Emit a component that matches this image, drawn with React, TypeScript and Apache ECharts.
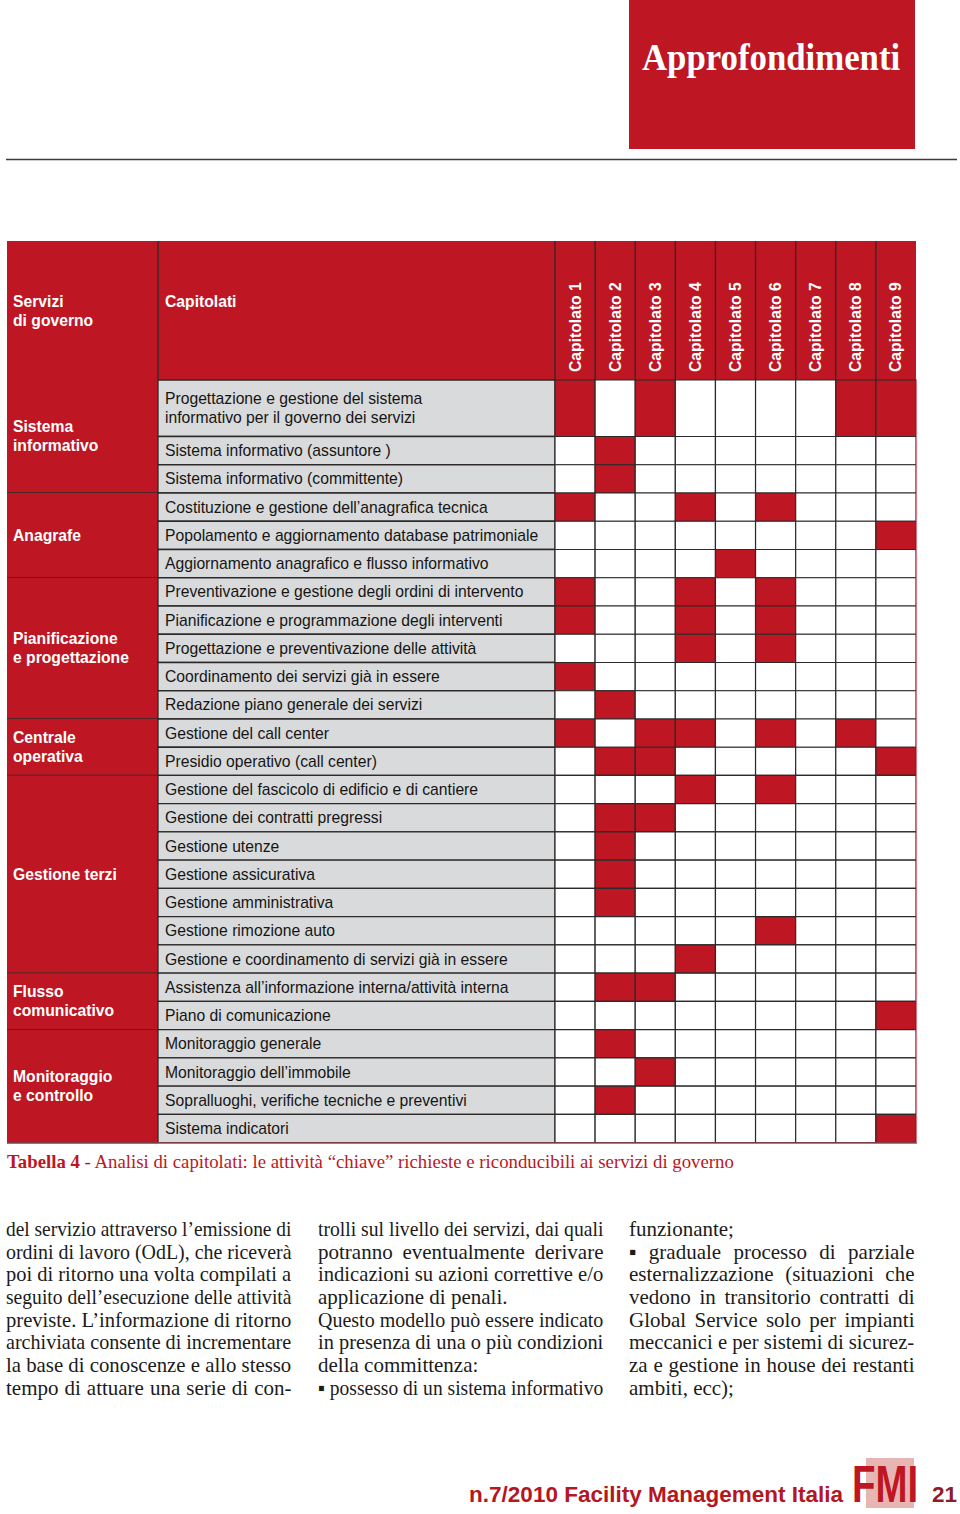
import React, { useEffect, useRef } from 'react';
import * as echarts from 'echarts';

// ---------- DATA ----------
const capitolati = ['Capitolato 1', 'Capitolato 2', 'Capitolato 3', 'Capitolato 4', 'Capitolato 5', 'Capitolato 6', 'Capitolato 7', 'Capitolato 8', 'Capitolato 9'];

const servizi = ['Sistema\ninformativo', 'Anagrafe', 'Pianificazione\ne progettazione', 'Centrale\noperativa', 'Gestione terzi', 'Flusso\ncomunicativo', 'Monitoraggio\ne controllo'];
const attivitaPerServizio = [3, 3, 5, 2, 7, 2, 4];

const attivita = [
  'Progettazione e gestione del sistema\ninformativo per il governo dei servizi',
  'Sistema informativo (assuntore )',
  'Sistema informativo (committente)',
  'Costituzione e gestione dell’anagrafica tecnica',
  'Popolamento e aggiornamento database patrimoniale',
  'Aggiornamento anagrafico e flusso informativo',
  'Preventivazione e gestione degli ordini di intervento',
  'Pianificazione e programmazione degli interventi',
  'Progettazione e preventivazione delle attività',
  'Coordinamento dei servizi già in essere',
  'Redazione piano generale dei servizi',
  'Gestione del call center',
  'Presidio operativo (call center)',
  'Gestione del fascicolo di edificio e di cantiere',
  'Gestione dei contratti pregressi',
  'Gestione utenze',
  'Gestione assicurativa',
  'Gestione amministrativa',
  'Gestione rimozione auto',
  'Gestione e coordinamento di servizi già in essere',
  'Assistenza all’informazione interna/attività interna',
  'Piano di comunicazione',
  'Monitoraggio generale',
  'Monitoraggio dell’immobile',
  'Sopralluoghi, verifiche tecniche e preventivi',
  'Sistema indicatori',
];
// number of text lines (row units) per activity
const righeAttivita = [2, 1, 1, 1, 1, 1, 1, 1, 1, 1, 1, 1, 1, 1, 1, 1, 1, 1, 1, 1, 1, 1, 1, 1, 1, 1];

// capitolati (1-based) in which each activity is required
const capitolatiPerAttivita = [
  [1, 3, 8, 9], [2], [2], [1, 4, 6], [9], [5], [1, 4, 6], [1, 4, 6], [4, 6], [1], [2],
  [1, 3, 4, 6, 8], [2, 3, 9], [4, 6], [2, 3], [2], [2], [2], [6], [4], [2, 3], [9], [2], [3], [2], [9],
];

const colonna1 = [
  'del servizio attraverso l’emissione di',
  'ordini di lavoro (OdL), che riceverà',
  'poi di ritorno una volta compilati a',
  'seguito dell’esecuzione delle attività',
  'previste. L’informazione di ritorno',
  'archiviata consente di incrementare',
  'la base di conoscenze e allo stesso',
  'tempo di attuare una serie di con-',
];
const colonna2 = [
  'trolli sul livello dei servizi, dai quali',
  'potranno eventualmente derivare',
  'indicazioni su azioni correttive e/o',
  'applicazione di penali.',
  'Questo modello può essere indicato',
  'in presenza di una o più condizioni',
  'della committenza:',
  '▪ possesso di un sistema informativo',
];
const colonna3 = [
  'funzionante;',
  '▪ graduale processo di parziale',
  'esternalizzazione (situazioni che',
  'vedono in transitorio contratti di',
  'Global Service solo per impianti',
  'meccanici e per sistemi di sicurez-',
  'za e gestione in house dei restanti',
  'ambiti, ecc);',
];
const righeLibere = ['applicazione di penali.', 'della committenza:', 'funzionante;', 'ambiti, ecc);'];

const titolo = 'Approfondimenti';
const didascaliaB = 'Tabella 4';
const didascalia = ' - Analisi di capitolati: le attività “chiave” richieste e riconducibili ai servizi di governo';
const piede = 'n.7/2010 Facility Management Italia';
const pagina = '21';

// ---------- STYLE / LAYOUT ----------
const RED = '#BE1622';
const GRAY = '#D9DADB';
const LINE = '#2e2a2a';
const SANS = 'Liberation Sans';
const SERIF = 'Liberation Serif';
const FS = 15.7;

const T_LEFT = 7;
const W1 = 151;
const W2 = 397;
const WM = 361;
const H_TOP = 241;
const B_TOP = 380;
const B_H = 762.7;
const BODY_SIZE = 21;

function txt(extra: any) {
  const s = extra.style || {};
  const a = s.align || 'left';
  const v = s.verticalAlign || 'middle';
  return { ...extra, style: { ...s, align: a, textAlign: a, verticalAlign: v, textVerticalAlign: v } };
}

export default function App() {
  const ref = useRef<HTMLDivElement>(null);

  useEffect(() => {
    document.body.style.margin = '0';
    const chart = echarts.init(ref.current!, null, { renderer: 'svg' });

    // row starts in "row units"
    const starts: number[] = [];
    let acc = 0;
    righeAttivita.forEach((h) => { starts.push(acc); acc += h; });
    const TOTAL = acc;

    const gruppi: number[][] = [];
    let k = 0;
    attivitaPerServizio.forEach((n, i) => {
      const s = starts[k];
      const e = k + n < starts.length ? starts[k + n] : TOTAL;
      gruppi.push([s, e - s, i]);
      k += n;
    });

    const righe = attivita.map((_, r) => [starts[r], righeAttivita[r], r]);
    const celle: number[][] = [];
    attivita.forEach((_, r) => {
      capitolati.forEach((__, c) => {
        celle.push([c, starts[r], righeAttivita[r], capitolatiPerAttivita[r].includes(c + 1) ? 1 : 0]);
      });
    });

    // ----- body text (justified) -----
    const canvas = document.createElement('canvas');
    const ctx = canvas.getContext('2d')!;
    ctx.font = `${BODY_SIZE}px "${SERIF}"`;
    const bodyStyle = { fill: '#1b1b1b', fontSize: BODY_SIZE, fontFamily: SERIF };
    const bodyEls: any[] = [];
    const colX = [6, 318, 629];
    const colW = 285.5;
    [colonna1, colonna2, colonna3].forEach((lines, ci) => {
      lines.forEach((line, li) => {
        const x = colX[ci];
        const y = 1229 + li * 22.65;
        const justify = !righeLibere.includes(line);
        const words = line.split(' ');
        const ws = words.map((w) => ctx.measureText(w).width);
        const sp = ctx.measureText(' ').width;
        const sum = ws.reduce((a, b) => a + b, 0);
        const natural = sum + sp * (words.length - 1);
        if (natural > colW || !justify || words.length < 2) {
          const sc = natural > colW ? colW / natural : 1;
          bodyEls.push(txt({ type: 'text', x, y, scaleX: sc, style: { ...bodyStyle, text: line } }));
        } else {
          const gap = (colW - sum) / (words.length - 1);
          let cx = x;
          words.forEach((w, i) => {
            bodyEls.push(txt({ type: 'text', x: cx, y, style: { ...bodyStyle, text: w } }));
            cx += ws[i] + gap;
          });
        }
      });
    });

    const colWm = WM / capitolati.length;
    const headerLines: any[] = [];
    [T_LEFT + W1, T_LEFT + W1 + W2].concat(capitolati.slice(1).map((_, i) => T_LEFT + W1 + W2 + (i + 1) * colWm)).forEach((x) => {
      headerLines.push({ type: 'line', shape: { x1: x, y1: H_TOP, x2: x, y2: B_TOP }, style: { stroke: LINE, lineWidth: 1.3 }, z: 1 });
    });

    const option: any = {
      animation: false,
      backgroundColor: '#ffffff',
      grid: [
        { left: T_LEFT, top: B_TOP, width: W1, height: B_H, outerBoundsMode: 'none', containLabel: false },
        { left: T_LEFT + W1, top: B_TOP, width: W2, height: B_H, outerBoundsMode: 'none', containLabel: false },
        { left: T_LEFT + W1 + W2, top: B_TOP, width: WM, height: B_H, outerBoundsMode: 'none', containLabel: false },
      ],
      xAxis: [
        { gridIndex: 0, type: 'value', min: 0, max: 1, show: false },
        { gridIndex: 1, type: 'value', min: 0, max: 1, show: false },
        {
          gridIndex: 2, type: 'category', data: capitolati, position: 'top', z: 10,
          axisLine: { show: false }, axisTick: { show: false }, splitLine: { show: false },
          axisLabel: { interval: 0, rotate: 90, margin: 8, color: '#ffffff', fontSize: FS, fontWeight: 'bold', fontFamily: SANS },
        },
      ],
      yAxis: [0, 1, 2].map((i) => ({ gridIndex: i, type: 'value', min: 0, max: TOTAL, inverse: true, show: false })),
      graphic: {
        elements: [
          // top banner
          { type: 'rect', shape: { x: 629, y: 0, width: 286, height: 149 }, style: { fill: RED } },
          txt({ type: 'text', x: 642, y: 57, scaleX: 0.915, style: { text: titolo, fill: '#ffffff', fontSize: 38, fontWeight: 'bold', fontFamily: SERIF } }),
          { type: 'line', shape: { x1: 6, y1: 159.5, x2: 957, y2: 159.5 }, style: { stroke: '#3a3a3a', lineWidth: 1.5 } },
          // table header
          { type: 'rect', shape: { x: T_LEFT, y: H_TOP, width: W1 + W2 + WM, height: B_TOP - H_TOP }, style: { fill: RED }, z: 0 },
          ...headerLines,
          txt({ type: 'text', x: T_LEFT + 6, y: 310.5, z: 2, style: { text: 'Servizi\ndi governo', lineHeight: 19, fill: '#ffffff', fontSize: FS, fontWeight: 'bold', fontFamily: SANS } }),
          txt({ type: 'text', x: T_LEFT + W1 + 7, y: 301, z: 2, style: { text: 'Capitolati', fill: '#ffffff', fontSize: FS, fontWeight: 'bold', fontFamily: SANS } }),
          // table outer edges
          { type: 'line', shape: { x1: T_LEFT + W1 + W2 + WM + 0.5, y1: B_TOP, x2: T_LEFT + W1 + W2 + WM + 0.5, y2: B_TOP + B_H }, style: { stroke: '#c97e8a', lineWidth: 1.2 }, z: 20 },
          { type: 'line', shape: { x1: T_LEFT, y1: B_TOP + B_H + 0.5, x2: T_LEFT + W1 + W2 + WM + 1, y2: B_TOP + B_H + 0.5 }, style: { stroke: '#c9505e', lineWidth: 1.2 }, z: 20 },
          // caption
          txt({
            type: 'text', x: 7, y: 1161,
            style: {
              text: `{b|${didascaliaB}}${didascalia}`, fill: RED, fontSize: 18.8, fontFamily: SERIF,
              rich: { b: { fill: RED, fontSize: 18.8, fontFamily: SERIF, fontWeight: 'bold' } },
            },
          }),
          ...bodyEls,
          // footer
          txt({ type: 'text', x: 843, y: 1494, style: { text: piede, align: 'right', fill: '#B5161F', fontSize: 22.5, fontWeight: 'bold', fontFamily: SANS } }),
          { type: 'rect', shape: { x: 866, y: 1458, width: 48, height: 50 }, style: { fill: '#E8B6B2' } },
          txt({ type: 'text', x: 852, y: 1484, scaleX: 0.74, style: { text: 'FMI', fill: RED, fontSize: 52, fontWeight: 'bold', fontFamily: SANS } }),
          txt({ type: 'text', x: 932, y: 1494, style: { text: pagina, fill: '#8E1D24', fontSize: 22.5, fontWeight: 'bold', fontFamily: SANS } }),
        ],
      },
      series: [
        {
          type: 'custom', xAxisIndex: 0, yAxisIndex: 0, data: gruppi, encode: { x: 2, y: 0 },
          renderItem: (params: any, api: any) => {
            const s = api.value(0), sp = api.value(1), i = api.value(2);
            const a = api.coord([0, s]);
            const b = api.coord([1, s + sp]);
            return {
              type: 'group',
              children: [
                { type: 'rect', shape: { x: a[0], y: a[1], width: b[0] - a[0], height: b[1] - a[1] }, style: { fill: RED } },
                { type: 'line', shape: { x1: a[0], y1: b[1], x2: b[0], y2: b[1] }, style: { stroke: LINE, lineWidth: 1.5 } },
                txt({ type: 'text', x: a[0] + 6, y: (a[1] + b[1]) / 2, style: { text: servizi[i], lineHeight: 19, fill: '#ffffff', fontSize: FS, fontWeight: 'bold', fontFamily: SANS } }),
              ],
            };
          },
        },
        {
          type: 'custom', xAxisIndex: 1, yAxisIndex: 1, data: righe, encode: { x: 2, y: 0 },
          renderItem: (params: any, api: any) => {
            const s = api.value(0), sp = api.value(1), i = api.value(2);
            const a = api.coord([0, s]);
            const b = api.coord([1, s + sp]);
            return {
              type: 'group',
              children: [
                { type: 'rect', shape: { x: a[0], y: a[1], width: b[0] - a[0], height: b[1] - a[1] }, style: { fill: GRAY, stroke: LINE, lineWidth: 1.3 } },
                txt({ type: 'text', x: a[0] + 7, y: (a[1] + b[1]) / 2, style: { text: attivita[i], lineHeight: 19, fill: '#151515', fontSize: FS, fontFamily: SANS } }),
              ],
            };
          },
        },
        {
          type: 'custom', xAxisIndex: 2, yAxisIndex: 2, data: celle, encode: { x: 0, y: 1 },
          renderItem: (params: any, api: any) => {
            const c = api.value(0), s = api.value(1), sp = api.value(2), v = api.value(3);
            const p = api.coord([c, s]);
            const size = api.size([1, sp]);
            return {
              type: 'rect',
              shape: { x: p[0] - size[0] / 2, y: p[1], width: size[0], height: size[1] },
              style: { fill: v ? RED : '#ffffff', stroke: LINE, lineWidth: 1.2 },
            };
          },
        },
      ],
    };

    chart.setOption(option);
    return () => chart.dispose();
  }, []);

  return <div ref={ref} style={{ width: 960, height: 1514 }} />;
}
